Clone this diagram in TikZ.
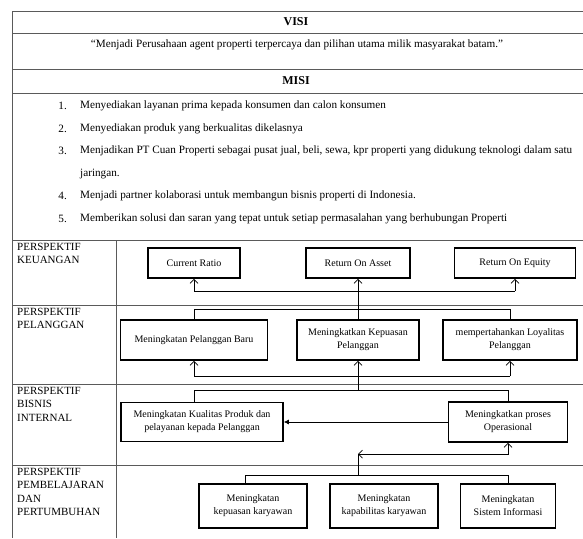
\documentclass[tikz,border=0pt]{standalone}
\usepackage{fontspec}
\setmainfont{Liberation Serif}
\usetikzlibrary{positioning,arrows.meta}
\definecolor{gridGray}{HTML}{5A5A5A}
\tikzset{
  tableLine/.style={draw=gridGray, line width=0.9pt},
  head/.style={font=\fontsize{12}{14}\selectfont\bfseries, inner sep=0pt},
  itemNum/.style={anchor=east, inner sep=0pt},
  itemText/.style={anchor=west, inner sep=0pt},
  persp/.style={anchor=north west, align=left, inner sep=0pt, font=\fontsize{11}{13.5}\selectfont},
  kpi/.style={draw, line width=1.6pt, fill=white, align=center, inner sep=2pt, font=\fontsize{10}{13}\selectfont},
  link/.style={line width=0.7pt},
  arrow/.style={link, -{Straight Barb[length=4pt,width=8pt]}},
  arrowBoth/.style={link, {Straight Barb[length=4pt,width=8pt]}-{Straight Barb[length=4pt,width=8pt]}},
  arrowFill/.style={link, -{Latex[length=5pt,width=5pt]}}
}

\begin{document}
\begin{tikzpicture}[x=1pt, y=-1pt, font=\fontsize{11.2}{13}\selectfont]
  \useasboundingbox (0,0) rectangle (583,538);

  % table frame
  \foreach \y in {11,33,69,93,240,305,384,465}
    \draw[tableLine] (12,\y) -- (583,\y);
  \draw[tableLine] (12,11) -- (12,538);
  \draw[tableLine] (116,240) -- (116,538);

  % visi / misi
  \node[head] (visi) at (296,22) {VISI};
  \node[inner sep=0pt] (visiText) at (297,45) {``Menjadi Perusahaan agent properti terpercaya dan pilihan utama milik masyarakat batam.''};
  \node[head] (misi) at (296,81) {MISI};

  \node[itemNum] (num1) at (67,106) {1.};
  \node[itemText] (misi1) at (80,106) {Menyediakan layanan prima kepada konsumen dan calon konsumen};
  \node[itemNum] (num2) at (67,128.5) {2.};
  \node[itemText] (misi2) at (80,128.5) {Menyediakan produk yang berkualitas dikelasnya};
  \node[itemNum] (num3) at (67,151) {3.};
  \node[itemText] (misi3) at (80,151) {Menjadikan PT Cuan Properti sebagai pusat jual, beli, sewa, kpr properti yang didukung teknologi dalam satu};
  \node[itemText] (misi3b) at (80,173.5) {jaringan.};
  \node[itemNum] (num4) at (67,196) {4.};
  \node[itemText] (misi4) at (80,196) {Menjadi partner kolaborasi untuk membangun bisnis properti di Indonesia.};
  \node[itemNum] (num5) at (67,218.5) {5.};
  \node[itemText] (misi5) at (80,218.5) {Memberikan solusi dan saran yang tepat untuk setiap permasalahan yang berhubungan Properti};

  % perspektif labels
  \node[persp] (perspKeu) at (17,243) {PERSPEKTIF\\KEUANGAN};
  \node[persp] (perspPel) at (17,308) {PERSPEKTIF\\PELANGGAN};
  \node[persp] (perspBis) at (17,387) {PERSPEKTIF\\BISNIS\\INTERNAL};
  \node[persp] (perspBel) at (17,468) {PERSPEKTIF\\PEMBELAJARAN\\DAN\\PERTUMBUHAN};

  % keuangan
  \node[kpi, minimum width=92pt, minimum height=30pt] (cr) at (194,263) {Current Ratio};
  \node[kpi, minimum width=104pt, minimum height=30pt] (roa) at (358,263) {Return On Asset};
  \node[kpi, minimum width=121pt, minimum height=30pt] (roe) at (515,263) {Return On Equity};

  % pelanggan
  \node[kpi, minimum width=147pt, minimum height=40pt] (pelBaru) at (194,340) {Meningkatan Pelanggan Baru};
  \node[kpi, minimum width=122pt, minimum height=40pt] (pelPuas) at (358,340) {Meningkatkan Kepuasan\\Pelanggan};
  \node[kpi, minimum width=134pt, minimum height=40pt] (pelLoyal) at (510,340) {mempertahankan Loyalitas\\Pelanggan};

  % bisnis internal
  \node[kpi, minimum width=162pt, minimum height=39pt] (kualitas) at (202,422) {Meningkatan Kualitas Produk dan\\pelayanan kepada Pelanggan};
  \node[kpi, minimum width=119pt, minimum height=40pt] (proses) at (508,422) {Meningkatkan proses\\Operasional};

  % pembelajaran
  \node[kpi, minimum width=108pt, minimum height=44pt] (karPuas) at (253,506) {Meningkatan\\kepuasan karyawan};
  \node[kpi, minimum width=108pt, minimum height=44pt] (karKap) at (384,506) {Meningkatan\\kapabilitas karyawan};
  \node[kpi, minimum width=95pt, minimum height=44pt] (sistem) at (508,506) {Meningkatan\\Sistem Informasi};

  \coordinate (keuBus) at (0,291);
  \coordinate (pelTop) at (0,309);
  \coordinate (pelBus) at (0,376);
  \coordinate (bisTop) at (0,390);
  \coordinate (opsBus) at (0,454);
  \coordinate (belTop) at (0,475);

  % connectors
  \draw[link] (cr.south |- keuBus) -- (roe.south |- keuBus);
  \draw[arrow] (cr.south |- keuBus) -- (cr.south);
  \draw[arrow] (roe.south |- keuBus) -- (roe.south);
  \draw[arrow] (pelPuas.north) -- (roa.south);
  \draw[link] (pelBaru.north) -- (pelBaru.north |- pelTop) -- (pelLoyal.north |- pelTop) -- (pelLoyal.north);

  \draw[link] (pelBaru.south |- pelBus) -- (pelLoyal.south |- pelBus);
  \draw[arrow] (pelBaru.south |- pelBus) -- (pelBaru.south);
  \draw[arrow] (pelPuas.south |- pelBus) -- (pelPuas.south);
  \draw[arrow] (pelLoyal.south |- pelBus) -- (pelLoyal.south);
  \draw[link] (pelPuas.south |- pelBus) -- (pelPuas.south |- bisTop);
  \draw[link] ([xshift=-8pt]kualitas.north) -- ([xshift=-8pt]kualitas.north |- bisTop) -- (proses.north |- bisTop) -- (proses.north);
  \draw[arrowFill] (proses.west) -- (kualitas.east);

  \draw[arrowBoth] (pelPuas.south |- opsBus) -- (proses.south |- opsBus) -- (proses.south);
  \draw[link] (pelPuas.south |- belTop) -- (pelPuas.south |- opsBus);
  \draw[link] ([xshift=-8pt]karPuas.north) -- ([xshift=-8pt]karPuas.north |- belTop) -- (sistem.north |- belTop) -- (sistem.north);
\end{tikzpicture}
\end{document}
